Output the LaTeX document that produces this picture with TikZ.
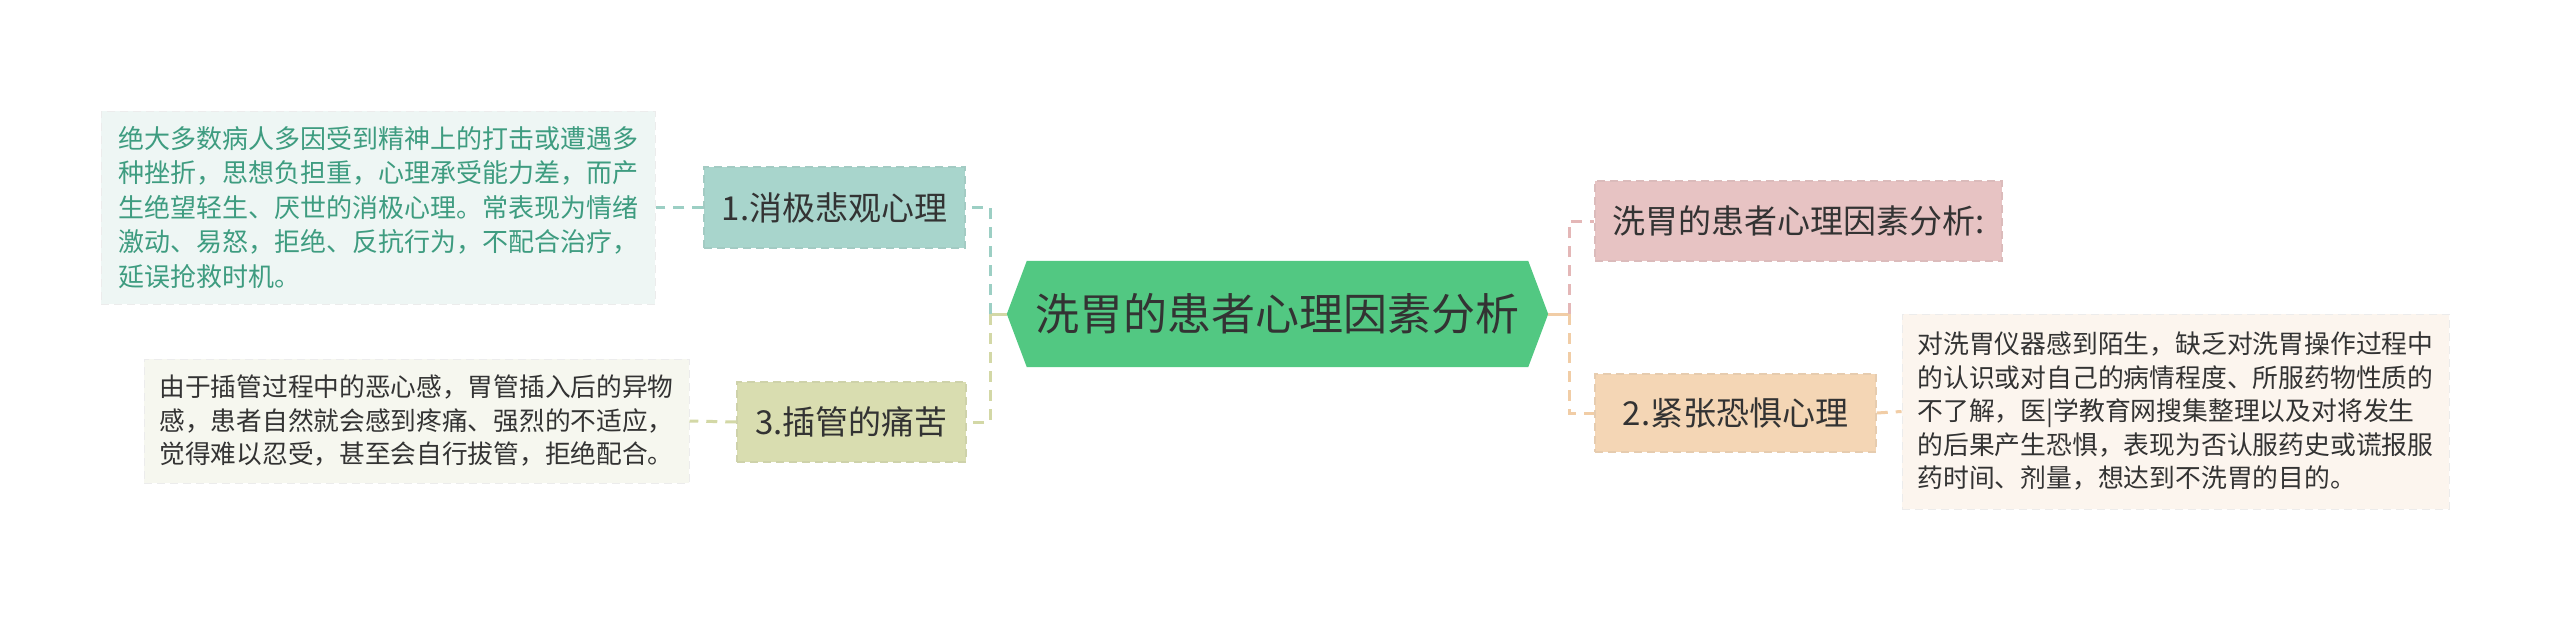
\documentclass[tikz,border=0pt]{standalone}
\usepackage{fontspec}
\setmainfont{Noto Sans CJK SC}
\usetikzlibrary{backgrounds,calc}
\definecolor{hexfill}{HTML}{52C882}
\definecolor{tealfill}{HTML}{A8D5CC}
\definecolor{tealline}{HTML}{9CCFC4}
\definecolor{olivefill}{HTML}{D9DDB0}
\definecolor{oliveline}{HTML}{D3D8A6}
\definecolor{pinkfill}{HTML}{E7C3C3}
\definecolor{pinkline}{HTML}{E4B7B7}
\definecolor{peachfill}{HTML}{F4D6B5}
\definecolor{peachline}{HTML}{F1CDA6}
\definecolor{leafA}{HTML}{EEF6F4}
\definecolor{leafB}{HTML}{F6F7EF}
\definecolor{leafC}{HTML}{FCF5EE}
\definecolor{tealtext}{HTML}{3E9C80}
\definecolor{darktext}{HTML}{333333}
\tikzset{
  topic/.style={draw, dashed, dash pattern=on 8pt off 5pt, line width=1.5pt, text=darktext, inner sep=0pt, font=\fontsize{33pt}{40pt}\selectfont},
  leafbox/.style={draw=white!85!gray, dashed, dash pattern=on 8pt off 5pt, line width=1pt, inner sep=0pt, align=left, font=\fontsize{26pt}{34pt}\selectfont},
  conn/.style={line width=3pt, dash pattern=on 11pt off 8pt},
}
\begin{document}
\begin{tikzpicture}[x=1pt,y=1pt]
\useasboundingbox (0,0) rectangle (2560,-618);

% central
\node[text=darktext, inner sep=0pt, minimum width=541pt, minimum height=106pt, font=\fontsize{44pt}{50pt}\selectfont] (c) at (1277.5,-314) {洗胃的患者心理因素分析};
\begin{scope}[on background layer]
\fill[white] (0,0) rectangle (2560,-618);
\fill[hexfill] (c.west) -- ($(c.north west)+(20,0)$) -- ($(c.north east)+(-20,0)$) -- (c.east) -- ($(c.south east)+(-20,0)$) -- ($(c.south west)+(20,0)$) -- cycle;
\end{scope}

% topics
\node[topic, fill=tealfill, draw=tealfill!88!gray, minimum width=261pt, minimum height=81pt] (n1) at (834.5,-207.5) {1.消极悲观心理};
\node[topic, fill=olivefill, draw=olivefill!88!gray, minimum width=229pt, minimum height=80pt] (n3) at (851.5,-422) {3.插管的痛苦};
\node[topic, fill=pinkfill, draw=pinkfill!88!gray, minimum width=407pt, minimum height=80pt] (r1) at (1798.5,-221) {洗胃的患者心理因素分析:};
\node[topic, fill=peachfill, draw=peachfill!88!gray, minimum width=281pt, minimum height=78pt] (r2) at (1735.5,-413) {2.紧张恐惧心理};

% leaves
\node[leafbox, fill=leafA, text=tealtext, minimum width=554pt, minimum height=193pt] (l1) at (378,-207.5) {\parbox{520pt}{\fontsize{26pt}{34.5pt}\selectfont 绝大多数病人多因受到精神上的打击或遭遇多\\种挫折，思想负担重，心理承受能力差，而产\\生绝望轻生、厌世的消极心理。常表现为情绪\\激动、易怒，拒绝、反抗行为，不配合治疗，\\延误抢救时机。}};
\node[leafbox, fill=leafB, text=darktext, minimum width=545pt, minimum height=124pt] (l3) at (416.5,-421) {\parbox{514pt}{\fontsize{25.7pt}{33.5pt}\selectfont 由于插管过程中的恶心感，胃管插入后的异物\\感，患者自然就会感到疼痛、强烈的不适应，\\觉得难以忍受，甚至会自行拔管，拒绝配合。}};
\node[leafbox, fill=leafC, text=darktext, minimum width=547pt, minimum height=195pt] (l2) at (2175.5,-411.5) {\parbox{516pt}{\fontsize{25.8pt}{33.5pt}\selectfont 对洗胃仪器感到陌生，缺乏对洗胃操作过程中\\的认识或对自己的病情程度、所服药物性质的\\不了解，医|学教育网搜集整理以及对将发生\\的后果产生恐惧，表现为否认服药史或谎报服\\药时间、剂量，想达到不洗胃的目的。}};

% connectors
\coordinate (jl) at (990,-314);
\coordinate (jr) at (1569,-314);
\draw[line width=3pt, oliveline] (c.west) -- (jl);
\draw[line width=3pt, peachline] (c.east) -- (jr);
\draw[conn, tealline] (jl) |- (n1.east);
\draw[conn, oliveline] (jl) |- (n3.east);
\draw[conn, pinkline] (jr) |- (r1.west);
\draw[conn, peachline] (jr) |- (r2.west);
\draw[conn, tealline] (n1.west) -- (l1.east);
\draw[conn, oliveline] (n3.west) -- (l3.east);
\draw[conn, peachline] (r2.east) -- (l2.west);
\end{tikzpicture}
\end{document}
